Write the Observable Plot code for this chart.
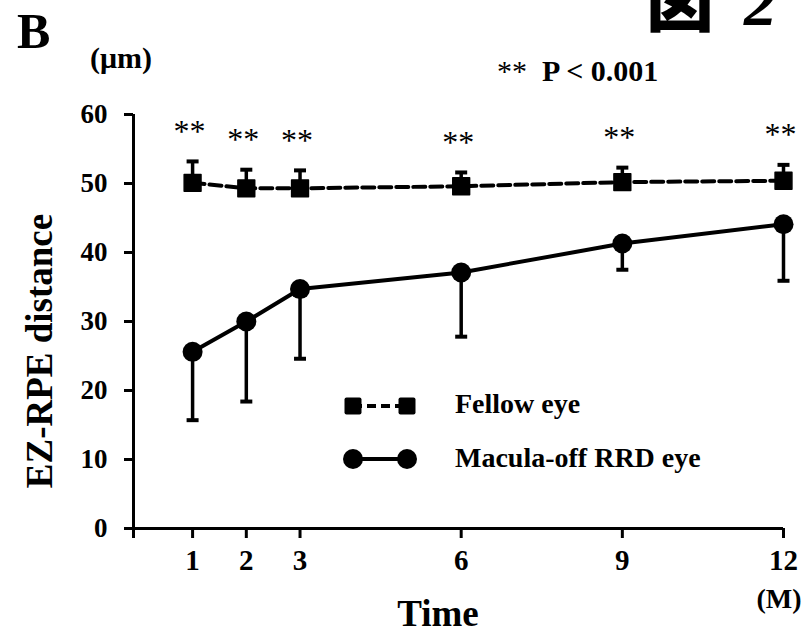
<!DOCTYPE html>
<html><head><meta charset="utf-8">
<script src="https://cdn.jsdelivr.net/npm/d3@7"></script>
<script src="https://cdn.jsdelivr.net/npm/@observablehq/plot@0.6"></script>
<style>
html,body{margin:0;padding:0;background:#fff;}
#chart{position:relative;width:802px;height:635px;}
</style></head><body><div id="chart"></div>
<script>
// ---- data ----
const months = [1, 2, 3, 6, 9, 12];
const fellowMean = [50.1, 49.3, 49.3, 49.6, 50.2, 50.4];
const fellowSD   = [3.1, 2.7, 2.6, 2.0, 2.1, 2.3];
const maculaMean = [25.6, 30.0, 34.7, 37.1, 41.3, 44.1];
const maculaSD   = [9.9, 11.6, 10.1, 9.3, 3.8, 8.2];
const sigMarks   = ["**", "**", "**", "**", "**", "**"];
const yTicks = [0, 10, 20, 30, 40, 50, 60];
const xTicks = [1, 2, 3, 6, 9, 12];
const seriesNames = ["Fellow eye", "Macula-off RRD eye"];

const xMin = -0.1;
const fellow = months.map((m, i) => ({m, mean: fellowMean[i], end: fellowMean[i] + fellowSD[i], sig: sigMarks[i]}));
const macula = months.map((m, i) => ({m, mean: maculaMean[i], end: maculaMean[i] - maculaSD[i]}));
const cap = {draw(ctx) { ctx.moveTo(-6, 0); ctx.lineTo(6, 0); }};
const serif = "'Liberation Serif','Times New Roman',serif";

const plot = Plot.plot({
  width: 802, height: 635,
  marginLeft: 133, marginRight: 19, marginTop: 114, marginBottom: 107,
  style: {fontFamily: serif, fontWeight: "bold", background: "white", color: "black", overflow: "visible"},
  x: {domain: [xMin, 12]},
  y: {domain: [0, 60]},
  marks: [
    Plot.ruleX([xMin], {y1: 0, y2: 60, strokeWidth: 3}),
    Plot.ruleY([0], {x1: xMin, x2: 12, strokeWidth: 3}),
    Plot.axisY({ticks: yTicks, tickSize: 9, tickPadding: 17, strokeWidth: 3, fontSize: 27, label: null}),
    Plot.axisX({ticks: [xMin], tickSize: 10, strokeWidth: 3, tickFormat: () => "", label: null}),
    Plot.axisX({ticks: xTicks, tickSize: 10, tickPadding: 11, strokeWidth: 3, fontSize: 29, label: null, tickFormat: d => String(d)}),
    Plot.line(fellow, {x: "m", y: "mean", strokeWidth: 4, strokeDasharray: "12,5"}),
    Plot.line(macula, {x: "m", y: "mean", strokeWidth: 4}),
    Plot.ruleX(fellow, {x: "m", y1: "mean", y2: "end", strokeWidth: 3.5}),
    Plot.ruleX(macula, {x: "m", y1: "mean", y2: "end", strokeWidth: 3.5}),
    Plot.dot(fellow, {x: "m", y: "end", symbol: cap, stroke: "black", fill: "none", strokeWidth: 4}),
    Plot.dot(macula, {x: "m", y: "end", symbol: cap, stroke: "black", fill: "none", strokeWidth: 4}),
    Plot.dot(fellow, {x: "m", y: "mean", symbol: "square", r: 9.5, fill: "black", stroke: "black", strokeWidth: 1.5, strokeLinejoin: "round"}),
    Plot.dot(macula, {x: "m", y: "mean", r: 10, fill: "black"}),
    Plot.text(fellow, {x: "m", y: "end", text: "sig", dy: -30, dx: -3, fontSize: 32, fontWeight: "normal"})
  ]
});
document.getElementById("chart").appendChild(plot);

// ---- annotations ----
const svg = d3.select(plot);
// make sure tick label sizes are applied
svg.selectAll('g[aria-label="y-axis tick label"], g[aria-label="y-axis tick label"] text').attr("font-size", 27);
svg.selectAll('g[aria-label="x-axis tick label"], g[aria-label="x-axis tick label"] text').attr("font-size", 29);
const t = (x, y, s, size, opts = {}) => {
  const el = svg.append("text").attr("x", x).attr("y", y).attr("font-size", size)
    .attr("font-family", opts.family || serif).attr("font-weight", opts.weight || "bold")
    .attr("text-anchor", opts.anchor || "start").attr("fill", "black").text(s);
  if (opts.style) el.attr("font-style", opts.style);
  return el;
};
t(17, 48, "B", 50);
t(90, 68, "(μm)", 30);
t(646, 26, "図", 68, {family: "'Noto Sans CJK JP'", weight: 900});
t(744, 25, "2", 66, {style: "italic"});
const p = svg.append("text").attr("x", 497).attr("y", 81).attr("font-size", 30)
  .attr("text-anchor", "start").attr("font-family", serif).attr("fill", "black");
p.append("tspan").attr("font-weight", "normal").text("**");
p.append("tspan").attr("font-weight", "bold").text("\u2002P < 0.001");
svg.append("text").attr("transform", "translate(52,351) rotate(-90)")
  .attr("text-anchor", "middle").attr("font-size", 37).attr("font-weight", "bold")
  .attr("font-family", serif).attr("fill", "black").text("EZ-RPE distance");
t(438, 626, "Time", 37, {anchor: "middle"});
t(779, 608, "(M)", 28, {anchor: "middle"});

// legend
const lg = svg.append("g");
lg.append("line").attr("x1", 353).attr("x2", 407).attr("y1", 406).attr("y2", 406)
  .attr("stroke", "black").attr("stroke-width", 4).attr("stroke-dasharray", "9,5");
[353, 407].forEach(x => lg.append("rect").attr("x", x - 8.5).attr("y", 406 - 8.5)
  .attr("width", 17).attr("height", 17).attr("rx", 2).attr("fill", "black"));
lg.append("line").attr("x1", 353).attr("x2", 407).attr("y1", 459).attr("y2", 459)
  .attr("stroke", "black").attr("stroke-width", 4);
[353, 407].forEach(x => lg.append("circle").attr("cx", x).attr("cy", 459).attr("r", 10).attr("fill", "black"));
t(455, 413, seriesNames[0], 28);
t(455, 467, seriesNames[1], 28);
</script></body></html>
